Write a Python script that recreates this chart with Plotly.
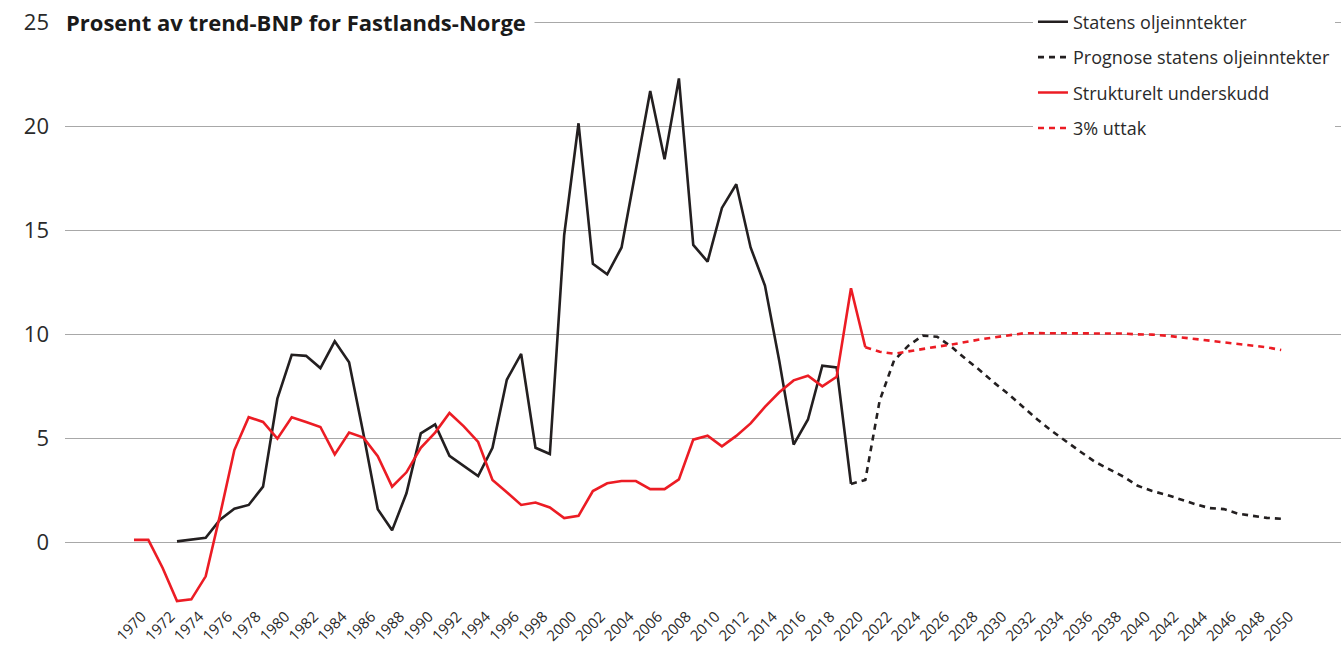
import plotly.graph_objects as go

# ---- data ----
years_oil = list(range(1973, 2021))
oil_income = [0.03, 0.1, 0.2, 1.07, 1.6, 1.78, 2.66,
              6.89, 9.0, 8.95, 8.36, 9.65, 8.64, 5.2, 1.58, 0.56, 2.34,
              5.22, 5.65, 4.14, 3.67, 3.17, 4.53, 7.8, 9.04, 4.53, 4.23,
              14.76, 20.13, 13.37, 12.87, 14.16, 17.9, 21.68, 18.4, 22.29, 14.28,
              13.48, 16.06, 17.2, 14.16, 12.33, 8.7, 4.68, 5.89, 8.48, 8.39,
              2.79]

years_oil_fc = list(range(2020, 2051))
oil_forecast = [2.79, 2.98, 6.8, 8.72, 9.44, 9.92, 9.87, 9.39, 8.8, 8.25,
                7.65, 7.1, 6.49, 5.89, 5.34, 4.82, 4.34, 3.86, 3.49, 3.14,
                2.7, 2.45, 2.27, 2.04, 1.82, 1.63, 1.58, 1.36, 1.26, 1.16,
                1.12]

years_deficit = list(range(1970, 2022))
structural_deficit = [0.1, 0.1, -1.25, -2.84, -2.76, -1.65, 1.3, 4.42, 6.0, 5.77,
                      4.97, 6.0, 5.77, 5.53, 4.21, 5.26, 5.02, 4.13, 2.66, 3.35,
                      4.53, 5.26, 6.2, 5.56, 4.81, 2.98, 2.39, 1.78, 1.9, 1.66,
                      1.15, 1.26, 2.45, 2.82, 2.93, 2.93, 2.54, 2.54, 3.01, 4.92,
                      5.11, 4.6, 5.1, 5.7, 6.5, 7.2, 7.77, 7.99, 7.48, 7.94,
                      12.2, 9.36]

years_uttak = list(range(2021, 2051))
uttak_3pct = [9.36, 9.15, 9.05, 9.17, 9.28, 9.39, 9.49, 9.63, 9.74,
              9.84, 9.92, 10.03, 10.04, 10.04, 10.04, 10.04, 10.04, 10.03, 10.02,
              9.98, 9.97, 9.92, 9.84, 9.74, 9.68, 9.59, 9.49, 9.44, 9.36,
              9.23]

x_tick_years = list(range(1970, 2051, 2))
y_ticks = [0, 5, 10, 15, 20, 25]

title_text = "Prosent av trend-BNP for Fastlands-Norge"
names = ["Statens oljeinntekter", "Prognose statens oljeinntekter",
         "Strukturelt underskudd", "3% uttak"]

BLACK = "#231f20"
RED = "#ec1c24"
TXT = "#2a2a2a"
GRID = "#a8a8a8"
FONT = "Open Sans, Arial, sans-serif"

fig = go.Figure()
fig.add_trace(go.Scatter(x=years_oil, y=oil_income, mode="lines", name=names[0],
                         legendgroup="a",
                         line=dict(color=BLACK, width=2.6)))
fig.add_trace(go.Scatter(x=years_oil_fc, y=oil_forecast, mode="lines", name=names[1],
                         legendgroup="b",
                         line=dict(color=BLACK, width=2.6, dash="6px,5px")))
fig.add_trace(go.Scatter(x=years_deficit, y=structural_deficit, mode="lines", name=names[2],
                         legendgroup="c",
                         line=dict(color=RED, width=2.6)))
fig.add_trace(go.Scatter(x=years_uttak, y=uttak_3pct, mode="lines", name=names[3],
                         legendgroup="d",
                         line=dict(color=RED, width=2.6, dash="6px,5px")))

fig.add_annotation(text="<b>" + title_text + "</b>", xref="paper", x=0, xanchor="left",
                   xshift=-8,
                   yref="y", y=25, yanchor="middle", showarrow=False,
                   font=dict(family=FONT, size=22, color="#1a1a1a"),
                   bgcolor="white", borderpad=8)

# labels sit slightly right of each year's position, as in the original
label_offset = 0.55

fig.update_layout(
    width=1341, height=651,
    margin=dict(l=65, r=0, t=8, b=47, autoexpand=False),
    paper_bgcolor="white", plot_bgcolor="white",
    font=dict(family=FONT, color=TXT),
    showlegend=True,
    hovermode=False,
    legend=dict(x=0.7586, xanchor="left", y=1.0075, yanchor="top",
                bgcolor="white", font=dict(family=FONT, size=18, color=TXT),
                tracegroupgap=9, traceorder="grouped",
                itemwidth=30),
    xaxis=dict(range=[1965.19, 2054.17], tickmode="array",
               tickvals=[y + label_offset for y in x_tick_years],
               ticktext=[str(v) for v in x_tick_years], tickangle=-45,
               showgrid=False, zeroline=False, showline=False, ticks="",
               automargin=False, ticklabeloverflow="allow",
               tickfont=dict(family=FONT, size=15, color=TXT)),
    yaxis=dict(range=[-2.981, 25.673], tickmode="array", tickvals=y_ticks,
               showgrid=True, gridcolor=GRID, gridwidth=1,
               zeroline=True, zerolinecolor=GRID, zerolinewidth=1,
               showline=False, ticks="", ticklabelstandoff=15,
               automargin=False, ticklabeloverflow="allow",
               tickfont=dict(family=FONT, size=22, color=TXT)),
)

# remove the default page margin so the figure fills the window exactly
fig.write_html("out.html", config={"displayModeBar": False},
               post_script="document.body.style.margin='0px';")
